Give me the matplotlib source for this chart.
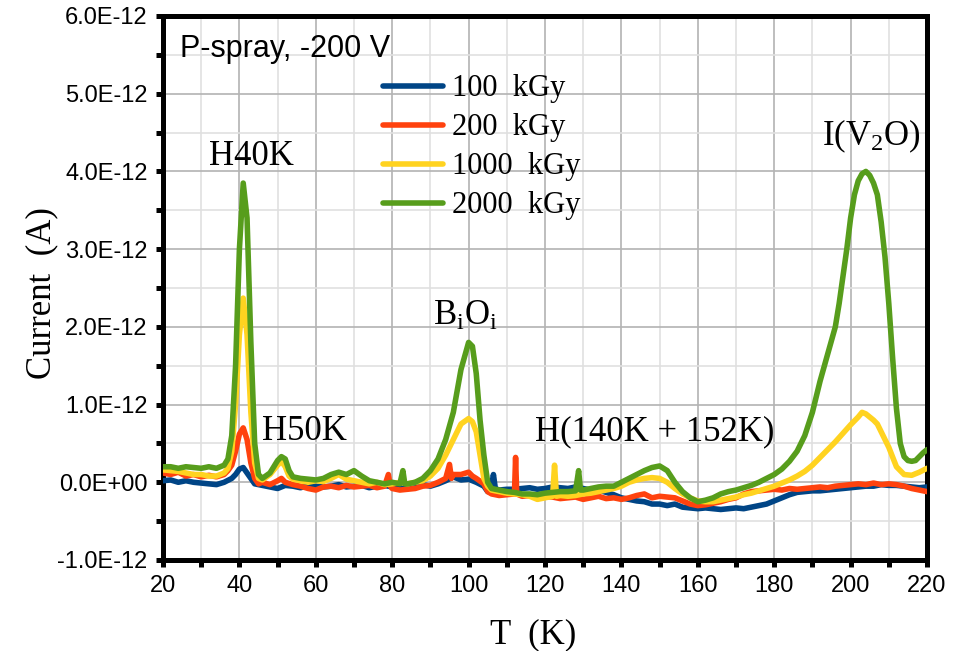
import matplotlib
matplotlib.use("Agg")
import matplotlib.pyplot as plt
from matplotlib.ticker import MultipleLocator, FuncFormatter
import numpy as np

# ---------------- data (current in units of 1e-12 A) ----------------
t_100 = [20, 22, 24, 26, 28, 30, 32, 34, 36, 38, 39, 40, 41, 42, 43, 44, 46, 48, 50, 52, 54, 56, 58, 60,
         62, 64, 66, 68, 70, 72, 74, 76, 78, 80, 82, 84, 86, 88, 90, 92, 94, 96, 98, 100, 102, 104, 105,
         106, 106.5, 107, 108, 110, 112, 114, 116, 118, 120, 122, 124, 126, 128, 130, 132, 134, 136, 138,
         140, 142, 144, 146, 148, 150, 152, 154, 156, 158, 160, 162, 164, 166, 168, 170, 172, 174, 176,
         178, 180, 182, 184, 186, 188, 190, 192, 194, 196, 198, 200, 202, 204, 206, 208, 210, 212, 214,
         216, 218, 220]
i_100 = [0.02, 0.03, 0.0, 0.02, 0.0, -0.01, -0.02, -0.03, 0.0, 0.05, 0.1, 0.17, 0.19, 0.12, 0.05, -0.02,
         -0.04, -0.06, -0.08, -0.04, -0.05, -0.07, -0.04, -0.05, -0.06, -0.05, -0.03, -0.06, -0.05, -0.04,
         -0.07, -0.05, -0.04, -0.06, -0.05, -0.08, -0.05, -0.03, -0.05, -0.02, 0.02, 0.07, 0.03, 0.04, 0.0,
         -0.05, -0.12, -0.05, 0.1, -0.08, -0.1, -0.09, -0.09, -0.08, -0.07, -0.09, -0.08, -0.06, -0.07,
         -0.08, -0.06, -0.08, -0.1, -0.1, -0.13, -0.16, -0.2, -0.22, -0.24, -0.25, -0.28, -0.28, -0.3,
         -0.28, -0.32, -0.33, -0.34, -0.33, -0.34, -0.35, -0.34, -0.33, -0.34, -0.32, -0.3, -0.28, -0.24,
         -0.2, -0.16, -0.13, -0.12, -0.11, -0.11, -0.1, -0.09, -0.08, -0.07, -0.06, -0.05, -0.05, -0.03,
         -0.04, -0.04, -0.05, -0.06, -0.07, -0.06]

t_200 = [20, 22, 24, 26, 28, 30, 32, 34, 36, 37, 38, 39, 40, 41, 42, 43, 44, 45, 46, 48, 50, 51, 52, 54,
         56, 58, 60, 62, 64, 66, 68, 70, 72, 74, 76, 78, 79, 79.5, 80, 82, 84, 86, 88, 90, 92, 94, 95,
         95.5, 96, 98, 100, 101, 102, 104, 105, 106, 108, 110, 112, 112.3, 112.6, 114, 116, 118, 120, 122,
         124, 126, 128, 130, 132, 134, 136, 138, 140, 142, 144, 146, 148, 150, 152, 154, 156, 158, 160,
         162, 164, 166, 168, 170, 172, 174, 176, 178, 180, 182, 184, 186, 188, 190, 192, 194, 196, 198,
         200, 202, 204, 206, 208, 210, 212, 214, 216, 218, 220]
i_200 = [0.12, 0.1, 0.13, 0.08, 0.1, 0.07, 0.09, 0.07, 0.1, 0.15, 0.22, 0.4, 0.62, 0.7, 0.55, 0.25, 0.05,
         -0.02, 0.0, -0.03, 0.02, 0.05, 0.0, -0.03, -0.05, -0.08, -0.1, -0.06, -0.05, -0.07, -0.04, -0.06,
         -0.05, -0.04, -0.07, -0.05, 0.1, -0.05, -0.08, -0.1, -0.09, -0.08, -0.05, -0.04, 0.0, 0.05, 0.23,
         0.05, 0.1, 0.1, 0.13, 0.08, 0.05, -0.02, -0.12, -0.15, -0.17, -0.16, -0.15, 0.32, -0.15, -0.18,
         -0.17, -0.2, -0.18, -0.19, -0.21, -0.2, -0.19, -0.22, -0.2, -0.18, -0.21, -0.2, -0.22, -0.2,
         -0.17, -0.15, -0.2, -0.18, -0.19, -0.2, -0.24, -0.28, -0.3, -0.29, -0.27, -0.25, -0.22, -0.2,
         -0.15, -0.12, -0.11, -0.1, -0.09, -0.1, -0.08, -0.09, -0.08, -0.07, -0.06, -0.07, -0.05, -0.04,
         -0.03, -0.02, -0.03, -0.01, -0.03, -0.02, -0.03, -0.05, -0.08, -0.1, -0.12]

t_1000 = [20, 22, 24, 26, 28, 30, 32, 34, 36, 37, 38, 39, 40, 41, 42, 43, 44, 45, 46, 48, 50, 51, 52, 53,
          54, 56, 58, 60, 62, 64, 66, 68, 70, 72, 74, 76, 78, 80, 82, 84, 86, 88, 90, 92, 94, 96, 98, 100,
          101, 102, 103, 104, 105, 106, 108, 110, 112, 114, 116, 118, 120, 122, 122.5, 123, 124, 126, 128,
          130, 132, 134, 136, 138, 140, 142, 144, 146, 148, 150, 152, 154, 156, 158, 160, 162, 164, 166,
          168, 170, 172, 174, 176, 178, 180, 182, 184, 186, 188, 190, 192, 194, 196, 198, 200, 202, 203,
          204, 206, 207, 208, 210, 212, 214, 216, 218, 220]
i_1000 = [0.16, 0.15, 0.14, 0.12, 0.1, 0.1, 0.08, 0.08, 0.12, 0.18, 0.4, 1.0, 1.9, 2.37, 1.9, 0.9, 0.25,
          0.05, 0.03, 0.1, 0.22, 0.27, 0.2, 0.08, 0.04, 0.02, 0.0, 0.02, 0.01, 0.05, 0.1, 0.04, 0.02, 0.0,
          -0.02, 0.0, -0.03, -0.02, 0.0, -0.02, 0.0, 0.02, 0.08, 0.18, 0.35, 0.55, 0.75, 0.82, 0.78, 0.65,
          0.35, 0.05, -0.05, -0.1, -0.12, -0.14, -0.15, -0.16, -0.18, -0.22, -0.2, -0.18, 0.22, -0.18,
          -0.17, -0.18, -0.17, -0.15, -0.14, -0.12, -0.1, -0.08, -0.05, 0.0, 0.03, 0.05, 0.06, 0.05, 0.0,
          -0.08, -0.15, -0.2, -0.24, -0.25, -0.25, -0.23, -0.21, -0.19, -0.16, -0.14, -0.11, -0.08, -0.05,
          -0.01, 0.03, 0.08, 0.14, 0.22, 0.32, 0.42, 0.52, 0.63, 0.74, 0.84, 0.9, 0.88, 0.8, 0.75, 0.65,
          0.45, 0.2, 0.1, 0.09, 0.13, 0.18]

t_2000 = [20, 22, 24, 26, 28, 30, 32, 34, 36, 37, 38, 39, 40, 41, 42, 43, 44, 45, 46, 48, 50, 51, 52, 53,
          54, 56, 58, 60, 62, 64, 66, 68, 70, 72, 74, 76, 78, 80, 82, 82.8, 83.3, 84, 86, 88, 90, 92, 94,
          96, 98, 100, 101, 102, 103, 104, 105, 106, 108, 110, 112, 114, 116, 118, 120, 122, 124, 126, 128,
          128.8, 129.3, 130, 132, 134, 136, 138, 140, 142, 144, 146, 148, 150, 152, 154, 156, 158, 160, 162,
          164, 166, 168, 170, 172, 174, 176, 178, 180, 182, 184, 186, 188, 190, 192, 194, 196, 197, 198,
          199, 200, 201, 202, 203, 204, 205, 206, 207, 208, 209, 210, 211, 212, 213, 214, 215, 216, 217,
          218, 219, 220]
i_2000 = [0.2, 0.2, 0.18, 0.2, 0.19, 0.18, 0.2, 0.18, 0.22, 0.3, 0.6, 1.5, 3.0, 3.85, 3.4, 1.8, 0.5, 0.1,
          0.05, 0.12, 0.28, 0.33, 0.3, 0.15, 0.07, 0.05, 0.04, 0.03, 0.05, 0.1, 0.13, 0.1, 0.15, 0.08,
          0.02, 0.0, -0.02, 0.0, -0.02, 0.15, -0.02, -0.02, 0.0, 0.05, 0.15, 0.3, 0.55, 0.9, 1.45, 1.8,
          1.75, 1.4, 0.8, 0.35, 0.0, -0.08, -0.1, -0.12, -0.13, -0.15, -0.15, -0.16, -0.14, -0.13, -0.12,
          -0.12, -0.11, 0.15, -0.1, -0.1, -0.08, -0.06, -0.05, -0.05, 0.0, 0.05, 0.1, 0.15, 0.19, 0.21,
          0.15, 0.0, -0.12, -0.2, -0.25, -0.23, -0.2, -0.15, -0.12, -0.1, -0.07, -0.04, 0.0, 0.05, 0.1,
          0.17, 0.27, 0.4, 0.6, 0.9, 1.3, 1.65, 2.0, 2.3, 2.65, 3.0, 3.4, 3.7, 3.88, 3.97, 4.0, 3.95, 3.85,
          3.7, 3.35, 2.9, 2.3, 1.6, 0.95, 0.5, 0.33, 0.28, 0.27, 0.28, 0.33, 0.38, 0.42]

series_labels = ["100  kGy", "200  kGy", "1000  kGy", "2000  kGy"]
series_colors = ["#004586", "#ff420e", "#ffd320", "#579d1c"]

x_ticks = [20, 40, 60, 80, 100, 120, 140, 160, 180, 200, 220]
y_ticks = [-1e-12, 0, 1e-12, 2e-12, 3e-12, 4e-12, 5e-12, 6e-12]

# ---------------- figure ----------------
SERIF = ["Liberation Serif", "DejaVu Serif"]
SANS = ["Liberation Sans", "DejaVu Sans"]
plt.rcParams["mathtext.fontset"] = "custom"
plt.rcParams["mathtext.rm"] = "Liberation Serif"
plt.rcParams["mathtext.it"] = "Liberation Serif"

fig = plt.figure(figsize=(9.64, 6.51), dpi=100)
ax = fig.add_axes([163 / 964, 1 - 560 / 651, (927 - 163) / 964, (560 - 16) / 651])

data = [(t_100, i_100), (t_200, i_200), (t_1000, i_1000), (t_2000, i_2000)]
for (t, i), lab, col in zip(data, series_labels, series_colors):
    ax.plot(t, np.array(i) * 1e-12, color=col, lw=4, label=lab, solid_joinstyle="round",
            solid_capstyle="round", zorder=3)

ax.set_xlim(20, 220)
ax.set_ylim(-1e-12, 6e-12)
ax.set_xticks(x_ticks)
ax.set_yticks(y_ticks)
ax.xaxis.set_minor_locator(MultipleLocator(10))
ax.yaxis.set_minor_locator(MultipleLocator(0.5e-12))
ax.yaxis.set_major_formatter(FuncFormatter(lambda v, p: f"{v:.1E}"))

ax.grid(which="major", color="#b3b3b3", lw=1.2, zorder=0)
ax.grid(which="minor", color="#e0e0e0", lw=1.2, zorder=0)
ax.set_axisbelow(True)

for s in ax.spines.values():
    s.set_linewidth(3.6)
    s.set_color("black")
ax.tick_params(which="both", direction="out", length=5, width=3.6, color="black")
ax.tick_params(which="major", labelsize=17, pad=6)
for lbl in ax.get_xticklabels() + ax.get_yticklabels():
    lbl.set_fontfamily(SANS)

ax.set_xlabel("T  (K)", fontsize=25, family=SERIF)
ax.set_ylabel("Current  (A)", fontsize=25, family=SERIF)
ax.xaxis.label.set_va("baseline")
ax.yaxis.label.set_va("baseline")
ax.xaxis.set_label_coords(0.485, -0.1526)
ax.yaxis.set_label_coords(-0.148, 0.49)

leg = ax.legend(loc="upper left", bbox_to_anchor=(0.288, 0.893), frameon=False,
                prop={"family": SERIF, "size": 22}, handlelength=1.95, handletextpad=0.3,
                labelspacing=0.33, borderpad=0, borderaxespad=0)

ax.text(0.022, 0.925, "P-spray, -200 V", transform=ax.transAxes, fontsize=22,
        family=SANS, va="baseline", ha="left")
ax.text(32.0, 4.08e-12, "H40K", fontsize=25, family=SERIF, va="baseline", ha="left")
ax.text(45.9, 0.54e-12, "H50K", fontsize=25, family=SERIF, va="baseline", ha="left")
ax.text(90.7, 2.03e-12, r"B$_\mathregular{i}$O$_\mathregular{i}$", fontsize=25, family=SERIF,
        va="baseline", ha="left")
ax.text(117.4, 0.54e-12, "H(140K + 152K)", fontsize=25, family=SERIF, va="baseline", ha="left")
ax.text(192.5, 4.34e-12, r"I(V$_\mathregular{2}$O)", fontsize=25, family=SERIF,
        va="baseline", ha="left")

fig.savefig("out.png", dpi=100)
